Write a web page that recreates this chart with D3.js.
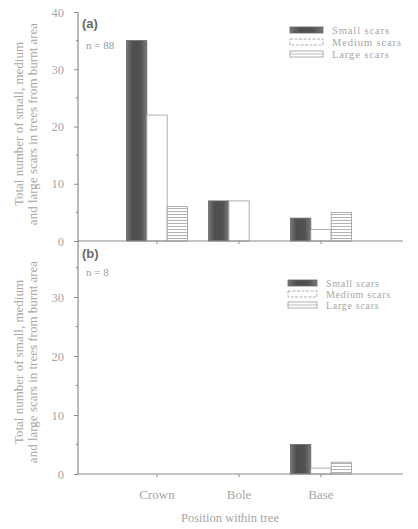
<!DOCTYPE html>
<html>
<head>
<meta charset="utf-8">
<script src="https://cdn.jsdelivr.net/npm/d3@7"></script>
<style>
  html, body { margin: 0; padding: 0; background: #fff; }
  svg { display: block; }
  text { font-family: "Liberation Serif", "DejaVu Serif", serif; }
</style>
</head>
<body>
<svg id="chart" width="418" height="529"></svg>
<script>
// Positions within the tree and the three scar size classes
const categories = ["Crown", "Bole", "Base"];
const seriesNames = ["Small scars", "Medium scars", "Large scars"];

// (a) trees from burnt area, n = 88
const smallA = [35, 7, 4];
const mediumA = [22, 7, 2];
const largeA = [6, 0, 5];

// (b) n = 8
const smallB = [0, 0, 5];
const mediumB = [0, 0, 1];
const largeB = [0, 0, 2];

const yTicksA = [0, 10, 20, 30, 40];
const yTicksB = [0, 10, 20, 30];

const panels = [
  { tag: "(a)", n: "n = 88", values: [smallA, mediumA, largeA], ticks: yTicksA,
    top: 12, bottom: 241, axisTop: 12, showLabels: false,
    legendY: 30, legendStep: 12, legendFont: 10.5, legendSpacing: 0.9, swX: 290, txtX: 332,
    labelCy: 124, tagY: 28, nY: 49 },
  { tag: "(b)", n: "n = 8", values: [smallB, mediumB, largeB], ticks: yTicksB,
    top: 238, bottom: 474, axisTop: 241, showLabels: true,
    legendY: 283, legendStep: 11, legendFont: 10, legendSpacing: 0.7, swX: 288, txtX: 326,
    labelCy: 362, tagY: 258, nY: 276 }
];

const svg = d3.select("#chart");
const left = 78, right = 403;
const textCol = "#a6a6a6";
const lineCol = "#8a8a8a";

const defs = svg.append("defs");
// shading for the small-scar bars
const grad = defs.append("linearGradient").attr("id", "darkFill")
  .attr("x1", "0").attr("x2", "1").attr("y1", "0").attr("y2", "0");
grad.append("stop").attr("offset", "0").attr("stop-color", "#767676");
grad.append("stop").attr("offset", "0.3").attr("stop-color", "#4e4e4e");
grad.append("stop").attr("offset", "0.7").attr("stop-color", "#525252");
grad.append("stop").attr("offset", "1").attr("stop-color", "#7a7a7a");
// horizontal hatching for the large-scar bars
const hatch = defs.append("pattern").attr("id", "hatch")
  .attr("patternUnits", "userSpaceOnUse").attr("width", 6).attr("height", 3);
hatch.append("rect").attr("width", 6).attr("height", 3).attr("fill", "#fff");
hatch.append("line").attr("x1", 0).attr("x2", 6).attr("y1", 1.5).attr("y2", 1.5)
  .attr("stroke", "#a0a0a0").attr("stroke-width", 0.8);

const x0 = d3.scaleBand().domain(categories).range([116, 362])
  .paddingInner(0.256).paddingOuter(0.128);
const x1 = d3.scaleBand().domain(seriesNames).range([0, x0.bandwidth()]);

const barStyle = [
  { fill: "url(#darkFill)", stroke: "#6a6a6a" },
  { fill: "#fff", stroke: "#9a9a9a" },
  { fill: "url(#hatch)", stroke: "#9a9a9a" }
];

panels.forEach(p => {
  const y = d3.scaleLinear().domain([0, 40]).range([p.bottom, p.top]);
  const g = svg.append("g");

  // bars
  seriesNames.forEach((s, si) => {
    g.append("g").selectAll("rect")
      .data(categories.map((c, ci) => ({ c, v: p.values[si][ci] })).filter(d => d.v > 0))
      .join("rect")
      .attr("x", d => x0(d.c) + x1(s))
      .attr("y", d => y(d.v))
      .attr("width", x1.bandwidth())
      .attr("height", d => y(0) - y(d.v))
      .attr("fill", barStyle[si].fill)
      .attr("stroke", barStyle[si].stroke)
      .attr("stroke-width", 0.8);
  });

  // y axis
  const yAxis = d3.axisLeft(y).tickValues(p.ticks).tickSize(4).tickSizeOuter(0)
    .tickPadding(10).tickFormat(d3.format("d"));
  const ya = g.append("g").attr("transform", `translate(${left},0)`).call(yAxis);
  ya.select(".domain").remove();
  ya.selectAll("line").attr("stroke", lineCol);
  ya.selectAll("text").attr("fill", textCol).style("font-size", "12.5px")
    .style("font-family", "'Liberation Serif', serif");
  // minor ticks
  g.append("g").selectAll("line")
    .data(d3.range(5, 40, 10))
    .join("line")
    .attr("x1", left - 2).attr("x2", left)
    .attr("y1", d => y(d)).attr("y2", d => y(d))
    .attr("stroke", lineCol);
  g.append("line").attr("x1", left).attr("x2", left)
    .attr("y1", p.axisTop).attr("y2", p.bottom)
    .attr("stroke", lineCol).attr("stroke-width", 1.2);

  // x axis
  g.append("line").attr("x1", left).attr("x2", right)
    .attr("y1", p.bottom).attr("y2", p.bottom)
    .attr("stroke", lineCol).attr("stroke-width", 1.2);
  const xAxis = d3.axisBottom(x0).tickSize(3).tickSizeOuter(0).tickPadding(13)
    .tickFormat(p.showLabels ? (d => d) : () => "");
  const xa = g.append("g").attr("transform", `translate(0,${p.bottom})`).call(xAxis);
  xa.select(".domain").remove();
  xa.selectAll("line").attr("stroke", lineCol);
  xa.selectAll("text").attr("fill", textCol).style("font-size", "13px")
    .style("font-family", "'Liberation Serif', serif");

  // panel tag and sample size
  g.append("text").attr("x", 82).attr("y", p.tagY).text(p.tag)
    .attr("fill", "#6a6a6a").style("font-family", "'Liberation Sans', sans-serif")
    .style("font-weight", "bold").style("font-size", "13px");
  g.append("text").attr("x", 86).attr("y", p.nY).text(p.n)
    .attr("fill", "#9a9a9a").style("font-size", "11px")
    .attr("xml:space", "preserve");

  // y label
  const yl = g.append("text")
    .attr("transform", `translate(0,${p.labelCy}) rotate(-90)`)
    .attr("text-anchor", "middle").attr("fill", textCol)
    .style("font-size", "13px");
  yl.append("tspan").attr("x", 0).attr("y", 23).text("Total number of small, medium");
  yl.append("tspan").attr("x", 0).attr("y", 37).text("and large scars in trees from burnt area");

  // legend
  const lg = g.append("g");
  seriesNames.forEach((s, si) => {
    const cy = p.legendY + si * p.legendStep;
    const r = lg.append("rect").attr("x", p.swX).attr("y", cy - 3)
      .attr("width", p.txtX - p.swX - 9).attr("height", 6)
      .attr("stroke-width", 0.8);
    if (si === 0) r.attr("fill", "url(#darkFill)").attr("stroke", "#666");
    if (si === 1) r.attr("fill", "#fff").attr("stroke", "#999").attr("stroke-dasharray", "3,1.5");
    if (si === 2) {
      r.attr("fill", "#fff").attr("stroke", "#999");
      lg.append("line").attr("x1", p.swX).attr("x2", p.txtX - 9)
        .attr("y1", cy).attr("y2", cy).attr("stroke", "#aaa").attr("stroke-width", 0.8);
    }
    lg.append("text").attr("x", p.txtX).attr("y", cy).attr("dy", "0.35em")
      .attr("fill", textCol).style("font-size", p.legendFont + "px")
      .style("letter-spacing", p.legendSpacing + "px").text(s);
  });
});

// shared x label
svg.append("text").attr("x", 230).attr("y", 522).attr("text-anchor", "middle")
  .attr("fill", textCol).style("font-size", "12.5px").text("Position within tree");
</script>
</body>
</html>
